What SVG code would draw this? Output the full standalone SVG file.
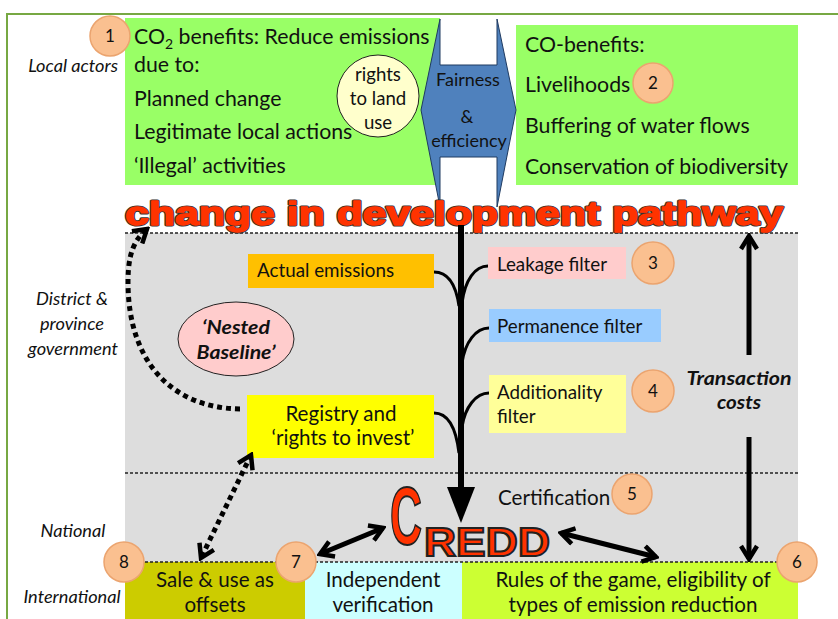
<svg xmlns="http://www.w3.org/2000/svg" width="838" height="619" viewBox="0 0 838 619">
<style>
  text { font-family: Lato, "Open Sans", "Liberation Sans", sans-serif; fill: #111; }
  .big { font-size: 21.3px; }
  .med { font-size: 20.6px; }
  .sm { font-size: 18.8px; }
  .rl { font-size: 18.6px; }
  .fe { font-size: 18px; }
  .lab { font-size: 18.2px; font-style: italic; }
  .bi { font-size: 18.5px; font-weight: bold; font-style: italic; }
  .num { font-size: 17px; text-anchor: middle; }
  .mid { text-anchor: middle; }
  .circ { fill: #fac090; stroke: #eba46f; stroke-width: 1.5; }
  .branch { fill: none; stroke: #000; stroke-width: 3; }
  .thick { fill: none; stroke: #000; stroke-width: 5; }
  .dots { fill: none; stroke: #000; stroke-width: 5; stroke-dasharray: 5 4; }
  .dash { stroke: #222; stroke-width: 1.3; stroke-dasharray: 3 2; }
</style>
<defs>
  <marker id="chev" viewBox="0 0 20 20" refX="17" refY="10" markerWidth="20" markerHeight="20" markerUnits="userSpaceOnUse" orient="auto-start-reverse">
    <path d="M4,2 L17,10 L4,18" fill="none" stroke="#000" stroke-width="4.5"/>
  </marker>
</defs>
<rect width="838" height="619" fill="#fff"/>
<!-- outer border -->
<path d="M7 619 V14 H838" fill="none" stroke="#77a843" stroke-width="2"/>

<!-- bands -->
<g id="bands">
  <rect x="125" y="233" width="673" height="330" fill="#dddddd"/>
  <line class="dash" x1="125" y1="233" x2="798" y2="233"/>
  <line class="dash" x1="125" y1="473" x2="798" y2="473"/>
</g>

<!-- row labels -->
<g id="row-labels">
  <text class="lab" x="118" y="72" text-anchor="end">Local actors</text>
  <text class="lab mid" x="72" y="305">District &amp;</text>
  <text class="lab mid" x="72" y="330">province</text>
  <text class="lab mid" x="73" y="355">government</text>
  <text class="lab mid" x="73" y="537">National</text>
  <text class="lab mid" x="72" y="603">International</text>
</g>

<!-- CO2 benefits -->
<g id="co2-benefits">
  <rect x="125" y="18" width="315" height="167" fill="#99ff66"/>
  <text class="big" x="134" y="44">CO<tspan font-size="14" dy="5">2</tspan><tspan dy="-5"> benefits: Reduce emissions</tspan></text>
  <text class="big" x="134" y="72">due to:</text>
  <text class="big" x="134" y="106">Planned change</text>
  <text class="big" x="134" y="139">Legitimate local actions</text>
  <text class="big" x="134" y="173">‘Illegal’ activities</text>
</g>
<g id="badge1"><circle class="circ" cx="110" cy="36" r="20"/><text class="num" x="110" y="42">1</text></g>

<g id="rights-land">
  <circle cx="378" cy="96" r="41" fill="#ffffcc" stroke="#222" stroke-width="1"/>
  <text class="rl mid" x="378" y="81">rights</text>
  <text class="rl mid" x="378" y="105">to land</text>
  <text class="rl mid" x="378" y="129">use</text>
</g>

<!-- co-benefits -->
<g id="co-benefits">
  <rect x="516" y="25" width="282" height="160" fill="#99ff66"/>
  <text class="big" x="525" y="52">CO-benefits:</text>
  <text class="big" x="525" y="92">Livelihoods</text>
  <text class="big" x="525" y="133">Buffering of water flows</text>
  <text class="big" x="525" y="174">Conservation of biodiversity</text>
</g>
<g id="badge2"><circle class="circ" cx="653" cy="83" r="20"/><text class="num" x="653" y="89">2</text></g>

<!-- fairness -->
<g id="fairness">
  <path d="M440 19 V65 H497 V19 L516 110 L497 207 V157 H440 V207 L421 110 Z" fill="#4f81bd" stroke="#1f3a60" stroke-width="1"/>
  <text class="fe mid" x="468" y="86">Fairness</text>
  <text class="fe mid" x="467" y="123">&amp;</text>
  <text class="fe mid" x="469" y="147">efficiency</text>
</g>

<!-- change in development pathway -->
<g id="pathway">
  <text x="125" y="225" textLength="658" lengthAdjust="spacingAndGlyphs" style="font-family:'Liberation Sans',Arial,sans-serif;font-weight:bold;font-size:33px;fill:#ff3300;stroke:#333;stroke-width:3;stroke-linejoin:round">change in development pathway</text>
  <text x="125" y="225" textLength="658" lengthAdjust="spacingAndGlyphs" style="font-family:'Liberation Sans',Arial,sans-serif;font-weight:bold;font-size:33px;fill:#ff3300;stroke:#ff3300;stroke-width:1.4;stroke-linejoin:round">change in development pathway</text>
</g>

<!-- district nodes -->
<g id="actual-emissions">
  <rect x="248" y="254" width="186" height="34" fill="#ffc000"/>
  <text class="sm" x="257" y="277">Actual emissions</text>
</g>
<g id="nested-baseline">
  <ellipse cx="236" cy="339" rx="58" ry="37" fill="#ffcccc" stroke="#222" stroke-width="1"/>
  <text class="bi mid" x="236" y="334" textLength="68" lengthAdjust="spacingAndGlyphs">‘Nested</text>
  <text class="bi mid" x="236" y="359" textLength="79" lengthAdjust="spacingAndGlyphs">Baseline’</text>
</g>
<g id="registry">
  <rect x="247" y="395" width="187" height="63" fill="#ffff00"/>
  <text class="med mid" x="341" y="421">Registry and</text>
  <text class="med mid" x="343" y="445">‘rights to invest’</text>
</g>
<g id="leakage">
  <rect x="488" y="247" width="138" height="32" fill="#ffcccc"/>
  <text class="sm" x="497" y="271">Leakage filter</text>
</g>
<g id="badge3"><circle class="circ" cx="653" cy="263" r="21"/><text class="num" x="653" y="269">3</text></g>
<g id="permanence">
  <rect x="489" y="309" width="172" height="33" fill="#99ccff"/>
  <text class="sm" x="497" y="333">Permanence filter</text>
</g>
<g id="additionality">
  <rect x="489" y="375" width="137" height="58" fill="#ffff99"/>
  <text class="sm" x="497" y="399">Additionality</text>
  <text class="sm" x="497" y="423">filter</text>
</g>
<g id="badge4"><circle class="circ" cx="653" cy="391" r="21"/><text class="num" x="653" y="397">4</text></g>
<g id="transaction">
  <text class="bi mid" x="739" y="385" textLength="105" lengthAdjust="spacingAndGlyphs">Transaction</text>
  <text class="bi mid" x="739" y="409" textLength="44" lengthAdjust="spacingAndGlyphs">costs</text>
</g>
<g id="certification">
  <text class="med" x="498" y="505">Certification</text>
</g>
<g id="badge5"><circle class="circ" cx="632" cy="494" r="20"/><text class="num" x="632" y="500">5</text></g>

<!-- CREDD -->
<g id="credd">
  <text style="font-family:'Liberation Sans',Arial,sans-serif;font-weight:bold;fill:#ff3300;stroke:#222;stroke-width:2"><tspan x="390" y="544" font-size="81" textLength="32" lengthAdjust="spacingAndGlyphs">C</tspan><tspan x="424" y="556" font-size="40" textLength="126" lengthAdjust="spacingAndGlyphs">REDD</tspan></text>
</g>

<!-- international boxes -->
<g id="sale">
  <rect x="125" y="562" width="180" height="57" fill="#cccc00"/>
  <text class="med mid" x="215" y="587">Sale &amp; use as</text>
  <text class="med mid" x="215" y="612">offsets</text>
</g>
<g id="verification">
  <rect x="305" y="562" width="157" height="57" fill="#ccffff"/>
  <text class="med mid" x="383" y="587">Independent</text>
  <text class="med mid" x="383" y="612">verification</text>
</g>
<g id="rules">
  <rect x="462" y="562" width="336" height="57" fill="#ccff33"/>
  <text class="med mid" x="633" y="587">Rules of the game, eligibility of</text>
  <text class="med mid" x="633" y="612">types of emission reduction</text>
</g>
<line class="dash" x1="125" y1="562" x2="798" y2="562"/>

<!-- connectors -->
<g id="connectors">
  <line x1="461" y1="225" x2="461" y2="489" stroke="#000" stroke-width="6"/>
  <polygon points="447,487 475,487 461,523" fill="#000"/>
  <path class="branch" d="M434 272 C448 272 456 285 459 306"/>
  <path class="branch" d="M488 266 C475 266 465 280 462 303"/>
  <path class="branch" d="M489 328 C476 328 465 342 462 363"/>
  <path class="branch" d="M489 393 C476 393 465 407 462 427"/>
  <path class="branch" d="M434 413 C448 413 456 428 459 453"/>
  <line class="thick" x1="749" y1="355" x2="749" y2="236" marker-end="url(#chev)"/>
  <line class="thick" x1="749" y1="437" x2="749" y2="559" marker-end="url(#chev)"/>
  <line class="thick" x1="320" y1="554" x2="383" y2="528" marker-start="url(#chev)" marker-end="url(#chev)"/>
  <line class="thick" x1="561" y1="533" x2="656" y2="557" marker-start="url(#chev)" marker-end="url(#chev)"/>
  <line class="dots" x1="251" y1="455" x2="201" y2="558" marker-start="url(#chev)" marker-end="url(#chev)"/>
  <path class="dots" d="M240 409 C172 408 128 362 128 282 C128 254 134 240 147 229" marker-end="url(#chev)"/>
</g>

<g id="badge8"><circle class="circ" cx="124" cy="562" r="20"/><text class="num" x="124" y="568">8</text></g>
<g id="badge7"><circle class="circ" cx="296" cy="562" r="20"/><text class="num" x="296" y="568">7</text></g>
<g id="badge6"><circle class="circ" cx="797" cy="562" r="20"/><text class="num" x="797" y="568">6</text></g>
</svg>
